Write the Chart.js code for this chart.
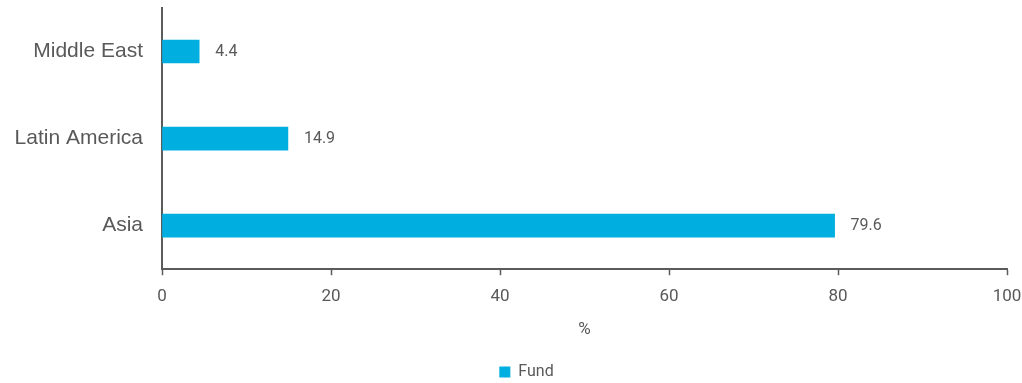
<!DOCTYPE html>
<html>
<head>
<meta charset="utf-8">
<script src="https://cdn.jsdelivr.net/npm/chart.js@4.4.0/dist/chart.umd.min.js"></script>
<style>
  html, body { margin: 0; padding: 0; background: #fff; }
  #wrap { width: 1022px; height: 383px; }
</style>
</head>
<body>
<div id="wrap"><canvas id="regionChart"></canvas></div>
<script>
// Region exposure, % of fund
const regions = ['Middle East', 'Latin America', 'Asia'];
const fundValues = [4.4, 14.9, 79.6];
const xTicks = [0, 20, 40, 60, 80, 100];

const narrow = "'Liberation Sans Narrow', 'Roboto', sans-serif";
const textGrey = '#595959';
const axisGrey = '#5b5b5b';

// writes the value to the right of each bar
const valueLabels = {
    id: 'valueLabels',
    afterUpdate(chart) {
        // nudge the legend a little right of the canvas centre, like the original
        const lg = chart.legend;
        lg.left += 23;
        lg.right += 23;
        lg.adjustHitBoxes();
    },
    afterDatasetsDraw(chart) {
        const ctx = chart.ctx;
        const meta = chart.getDatasetMeta(0);
        ctx.save();
        ctx.font = '16px ' + narrow;
        ctx.fillStyle = textGrey;
        ctx.textAlign = 'left';
        ctx.textBaseline = 'middle';
        meta.data.forEach((bar, i) => {
            ctx.fillText(fundValues[i].toFixed(1), bar.x + 16, bar.y);
        });
        ctx.restore();
    }
};

const ctx = document.getElementById('regionChart').getContext('2d');
new Chart(ctx, {
    type: 'bar',
    data: {
        labels: regions,
        datasets: [{
            label: 'Fund',
            data: fundValues,
            backgroundColor: '#00AEDF',
            barThickness: 23
        }]
    },
    options: {
        indexAxis: 'y',
        responsive: true,
        maintainAspectRatio: false,
        animation: false,
        layout: { padding: { left: 0, right: 15, top: 8, bottom: -7 } },
        plugins: {
            legend: {
                position: 'bottom',
                labels: {
                    boxWidth: 11,
                    boxHeight: 11,
                    padding: 2,
                    color: textGrey,
                    font: { family: narrow, size: 16 }
                }
            },
            tooltip: { enabled: false }
        },
        scales: {
            x: {
                min: 0,
                max: 100,
                afterBuildTicks: (scale) => { scale.ticks = xTicks.map(v => ({ value: v })); },
                afterFit: (scale) => { scale.paddingLeft = 0; scale.paddingRight = 0; },
                grid: { drawOnChartArea: false, tickLength: 6, tickColor: axisGrey, tickWidth: 1.5 },
                border: { color: axisGrey, width: 2 },
                ticks: { color: textGrey, padding: 11, font: { family: narrow, size: 17 } },
                title: { display: true, text: '%', color: textGrey, padding: { top: 2, bottom: 22 }, font: { family: narrow, size: 17 } }
            },
            y: {
                afterFit: (scale) => { scale.width = 162; scale.paddingTop = 0; scale.paddingBottom = 0; },
                grid: { display: false },
                border: { color: axisGrey, width: 2 },
                ticks: { color: textGrey, padding: 11, font: { family: "'Liberation Sans', Arial, sans-serif", size: 21 } }
            }
        }
    },
    plugins: [valueLabels]
});
</script>
</body>
</html>
